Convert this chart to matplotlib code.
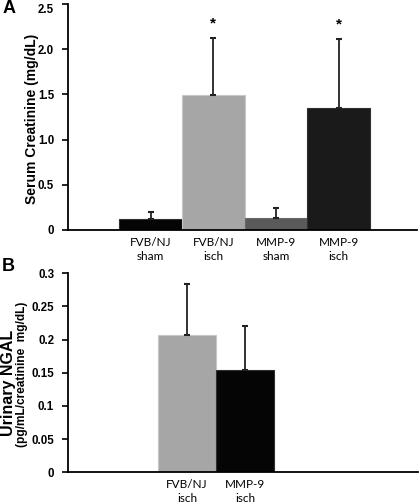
import matplotlib.pyplot as plt

plt.rcParams['font.family'] = ['Liberation Sans', 'DejaVu Sans']

# Panel A data
groups_a = ["FVB/NJ\nsham", "FVB/NJ\nisch", "MMP-9\nsham", "MMP-9\nisch"]
creat = [0.125, 1.49, 0.135, 1.35]
creat_err = [0.075, 0.635, 0.105, 0.76]
colors_a = ["#050505", "#a6a6a6", "#5a5a5a", "#1a1a1a"]
stars_a = ["", "*", "", "*"]
yticks_a = [0, 0.5, 1.0, 1.5, 2.0, 2.5]
yticklabels_a = ["0", "0.5", "1.0", "1.5", "2.0", "2.5"]

# Panel B data
groups_b = ["FVB/NJ\nisch", "MMP-9\nisch"]
ngal = [0.2075, 0.154]
ngal_err = [0.076, 0.067]
colors_b = ["#a6a6a6", "#050505"]
yticks_b = [0, 0.05, 0.1, 0.15, 0.2, 0.25, 0.3]
yticklabels_b = ["0", "0.05", "0.1", "0.15", "0.2", "0.25", "0.3"]

fig = plt.figure(figsize=(4.2, 5.04), dpi=100)
ax1 = fig.add_axes([0.162, 0.5437, 0.831, 0.4487])
ax2 = fig.add_axes([0.162, 0.0629, 0.833, 0.3948])


def style_axis(ax, labels):
    ax.spines['top'].set_visible(False)
    ax.spines['right'].set_visible(False)
    ax.spines['left'].set_linewidth(1.3)
    ax.spines['bottom'].set_linewidth(1.3)
    ax.tick_params(axis='y', direction='out', length=4, width=1.2, labelsize=8.3, pad=6)
    ax.tick_params(axis='x', length=0, pad=5)
    for lab in ax.get_yticklabels():
        lab.set_fontweight('bold')
    ax.set_xticklabels(labels, family=['Lato', 'DejaVu Sans'], fontsize=8.5, linespacing=1.3)


# Panel A
xa = list(range(len(groups_a)))
ax1.bar(xa, creat, width=1.0, color=colors_a,
        edgecolor=["#303030", "#c8c8c8", "#6a6a6a", "#303030"], linewidth=0.8)
ax1.errorbar(xa, creat, yerr=[[0] * len(creat), creat_err], fmt='none',
             ecolor="#222222", elinewidth=1.3, capsize=2.5, capthick=1.5)
for x, v, e, s in zip(xa, creat, creat_err, stars_a):
    if s:
        ax1.text(x, v + e + 0.08, s, ha='center', va='bottom', fontsize=11, fontweight='bold')
ax1.set_xlim(-1.32, 4.25)
ax1.set_ylim(0, 2.5)
ax1.set_yticks(yticks_a)
ax1.set_yticklabels(yticklabels_a)
ax1.set_xticks(xa)
style_axis(ax1, groups_a)
ax1.get_yticklabels()[-1].set_va('top')

# Panel B
xb = list(range(len(groups_b)))
ax2.bar(xb, ngal, width=1.0, color=colors_b, edgecolor=["#c8c8c8", "#303030"], linewidth=0.8)
ax2.errorbar(xb, ngal, yerr=[[0] * len(ngal), ngal_err], fmt='none',
             ecolor="#222222", elinewidth=1.3, capsize=2.5, capthick=1.5)
ax2.set_xlim(-2.05, 3.98)
ax2.set_ylim(0, 0.3)
ax2.set_yticks(yticks_b)
ax2.set_yticklabels(yticklabels_b)
ax2.set_xticks(xb)
style_axis(ax2, groups_b)

fig.text(0.077, 0.765, "Serum Creatinine (mg/dL)", rotation=90, ha='center', va='center',
         fontsize=10, fontweight='bold')
fig.text(0.021, 0.24, "Urinary NGAL", rotation=90, ha='center', va='center',
         fontsize=11.5, fontweight='bold')
fig.text(0.053, 0.258, "(pg/mL/creatinine  mg/dL)", rotation=90, ha='center', va='center',
         fontsize=8.6, fontweight='bold')

fig.text(0.005, 0.983, "A", fontsize=13, fontweight='bold', va='center')
fig.text(0.005, 0.472, "B", fontsize=13, fontweight='bold', va='center')

fig.savefig("out.png", dpi=100)
